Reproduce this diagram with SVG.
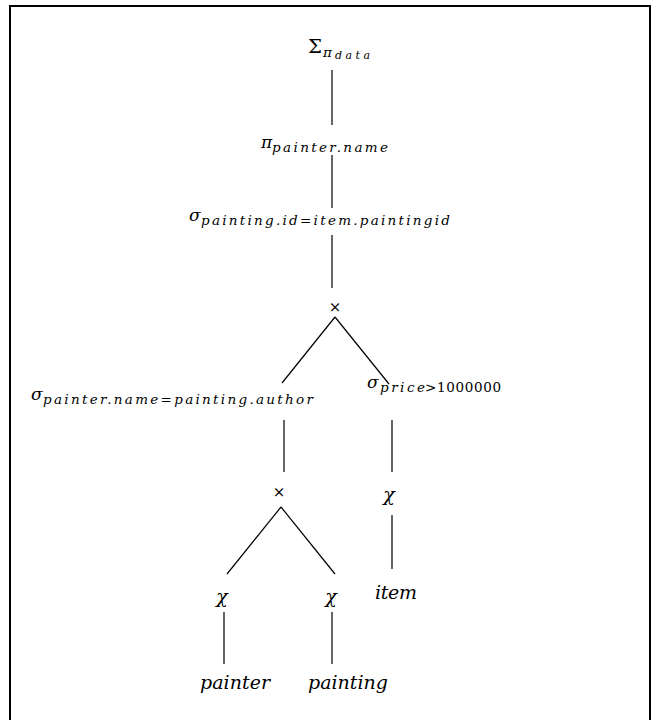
<svg xmlns="http://www.w3.org/2000/svg" width="659" height="720" viewBox="0 0 659 720">
<style>
text{font-family:"DejaVu Serif",serif;fill:#000}
.m{font-size:19px}
.i{font-style:italic}
.g{font-size:17px;font-style:italic}
.x{font-size:15px}
.s{font-size:13.5px;font-style:italic}
.ss{font-size:11px;font-style:italic}
.c line{stroke:#000;stroke-width:1.2}
</style>
<rect x="0" y="0" width="659" height="720" fill="#fff"/>
<rect x="10" y="6" width="640" height="730" fill="none" stroke="#000" stroke-width="2"/>
<g class="c" id="connectors">
<line x1="332" y1="70" x2="332" y2="125"/>
<line x1="332" y1="155" x2="332" y2="208"/>
<line x1="332" y1="235" x2="332" y2="288"/>
<line x1="335" y1="317" x2="282" y2="383"/>
<line x1="335" y1="317" x2="389" y2="384"/>
<line x1="284" y1="420" x2="284" y2="472"/>
<line x1="392" y1="420" x2="392" y2="472"/>
<line x1="281" y1="507" x2="227" y2="574"/>
<line x1="281" y1="507" x2="335" y2="574"/>
<line x1="392" y1="515" x2="392" y2="569"/>
<line x1="224" y1="612" x2="224" y2="664"/>
<line x1="332" y1="612" x2="332" y2="664"/>
</g>
<g id="sum">
<text class="m" x="308" y="53" textLength="14" lengthAdjust="spacingAndGlyphs">Σ</text>
<text class="s" x="323" y="57">π</text>
<text class="ss" x="335" y="59" textLength="35" lengthAdjust="spacing">data</text>
</g>
<g id="proj">
<text class="g" x="261" y="148">π</text>
<text class="s" x="272" y="152" textLength="116" lengthAdjust="spacing">painter.name</text>
</g>
<g id="sel1">
<text class="g" x="189" y="221">σ</text>
<text class="s" x="201" y="225" textLength="249" lengthAdjust="spacing">painting.id=item.paintingid</text>
</g>
<g id="cross1">
<text class="x" x="335" y="312" text-anchor="middle">×</text>
</g>
<g id="sel2">
<text class="g" x="31" y="400">σ</text>
<text class="s" x="43" y="404" textLength="270" lengthAdjust="spacing">painter.name=painting.author</text>
</g>
<g id="sel3">
<text class="g" x="367" y="388">σ</text>
<text class="s" x="380" y="392" textLength="45" lengthAdjust="spacing">price</text>
<text x="425" y="392" font-size="13.5" textLength="76" lengthAdjust="spacing">&gt;1000000</text>
</g>
<g id="cross2">
<text class="x" x="279" y="497" text-anchor="middle">×</text>
</g>
<g id="chi3">
<text class="m i" x="389" y="501" text-anchor="middle">χ</text>
</g>
<g id="chi1">
<text class="m i" x="222" y="603" text-anchor="middle">χ</text>
</g>
<g id="chi2">
<text class="m i" x="331" y="603" text-anchor="middle">χ</text>
</g>
<g id="item">
<text class="m i" x="375" y="599" textLength="42" lengthAdjust="spacing">item</text>
</g>
<g id="painter">
<text class="m i" x="200" y="689" textLength="70" lengthAdjust="spacing">painter</text>
</g>
<g id="painting">
<text class="m i" x="308" y="689" textLength="80" lengthAdjust="spacing">painting</text>
</g>
</svg>
